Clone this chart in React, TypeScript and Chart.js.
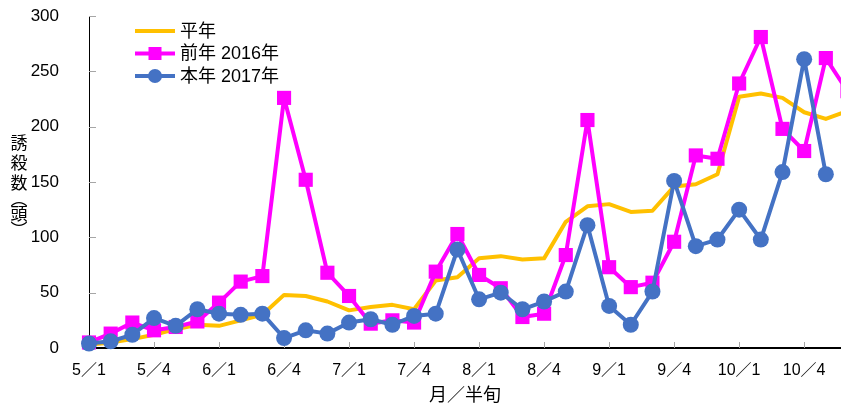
import React, { useEffect, useRef } from "react";
import { Chart, registerables } from "chart.js";

Chart.register(...registerables);

const categories = [
  "5／1", "5／2", "5／3", "5／4", "5／5", "5／6",
  "6／1", "6／2", "6／3", "6／4", "6／5", "6／6",
  "7／1", "7／2", "7／3", "7／4", "7／5", "7／6",
  "8／1", "8／2", "8／3", "8／4", "8／5", "8／6",
  "9／1", "9／2", "9／3", "9／4", "9／5", "9／6",
  "10／1", "10／2", "10／3", "10／4", "10／5", "10／6",
];

const normalYear = [3, 5, 8, 12, 17, 21, 20, 25, 30, 48, 47, 42, 34, 37, 39, 35, 61, 64, 81, 83, 80, 81, 114, 128, 130, 123, 124, 146, 148, 157, 227, 230, 226, 213, 207, 214];
const year2016 = [5, 13, 23, 16, 19, 24, 41, 60, 65, 226, 152, 68, 47, 22, 25, 23, 69, 103, 66, 54, 28, 31, 84, 206, 73, 55, 59, 96, 174, 171, 239, 281, 198, 178, 262, 232];
const year2017 = [4, 6, 12, 27, 20, 35, 31, 30, 31, 9, 16, 13, 23, 26, 21, 29, 31, 89, 44, 50, 35, 42, 51, 111, 38, 21, 51, 151, 92, 98, 125, 98, 159, 261, 157, null];

const yTicks = [0, 50, 100, 150, 200, 250, 300];
const seriesNames = ["平年", "前年 2016年", "本年 2017年"];
const yTitleChars = ["誘", "殺", "数", "︵", "頭", "︶"];
const xTitle = "月／半旬";

const FONT = '"Liberation Sans", "Noto Sans CJK JP", sans-serif';
const CJK = '"Noto Sans CJK JP", "Liberation Sans", sans-serif';

const toXY = (arr: (number | null)[]) => arr.map((v, i) => ({ x: i, y: v }));

const CLIP = { left: 15, top: 15, right: 0, bottom: 15 };

const extrasPlugin = {
  id: "extras",
  beforeDatasetsDraw(chart: any) {
    const ctx = chart.ctx;
    const { x, y } = chart.scales;
    const area = chart.chartArea;
    ctx.save();
    ctx.strokeStyle = "#A6A6A6";
    ctx.lineWidth = 1;
    ctx.beginPath();
    y.ticks.forEach((t: any) => {
      if (t.value === 0) return;
      const py = Math.round(y.getPixelForValue(t.value)) + 0.5;
      ctx.moveTo(area.left, py);
      ctx.lineTo(area.left + 7, py);
    });
    x.ticks.forEach((t: any) => {
      if (t.value === 0) return;
      const px = Math.round(x.getPixelForValue(t.value)) + 0.5;
      ctx.moveTo(px, area.bottom);
      ctx.lineTo(px, area.bottom - 6);
    });
    ctx.stroke();
    ctx.restore();
  },
  afterDraw(chart: any) {
    const ctx = chart.ctx;
    ctx.save();
    // vertical y-axis title
    ctx.fillStyle = "#000";
    ctx.font = `17px ${CJK}`;
    ctx.textAlign = "center";
    ctx.textBaseline = "middle";
    const ys = [143, 163, 183, 199, 214, 230];
    yTitleChars.forEach((c, i) => ctx.fillText(c, 19, ys[i]));

    // legend
    const rows = [31, 53.5, 76];
    chart.data.datasets.forEach((ds: any, i: number) => {
      const ry = rows[i];
      ctx.strokeStyle = ds.borderColor;
      ctx.lineWidth = 4;
      ctx.beginPath();
      ctx.moveTo(135, ry);
      ctx.lineTo(175, ry);
      ctx.stroke();
      ctx.fillStyle = ds.borderColor;
      if (ds.pointRadius > 0) {
        if (ds.pointStyle === "rect") {
          ctx.fillRect(155 - 6.5, ry - 6.5, 13, 13);
        } else {
          ctx.beginPath();
          ctx.arc(155, ry, 7, 0, Math.PI * 2);
          ctx.fill();
        }
      }
      ctx.fillStyle = "#000";
      ctx.font = `18px ${FONT}`;
      ctx.textAlign = "left";
      ctx.textBaseline = "middle";
      ctx.fillText(ds.label, 180, ry + 1);
    });
    ctx.restore();
  },
};

export default function App() {
  const ref = useRef<HTMLCanvasElement>(null);
  useEffect(() => {
    document.body.style.margin = "0";
    document.body.style.overflow = "hidden";
    const chart = new Chart(ref.current!, {
      type: "line",
      data: {
        datasets: [
          {
            label: seriesNames[0],
            data: toXY(normalYear),
            borderColor: "#FFC000",
            backgroundColor: "#FFC000",
            borderWidth: 4,
            borderJoinStyle: "round",
            pointRadius: 0,
            tension: 0,
            order: 3,
            clip: CLIP as any,
          },
          {
            label: seriesNames[1],
            data: toXY(year2016),
            borderColor: "#FF00FF",
            backgroundColor: "#FF00FF",
            borderWidth: 4,
            borderJoinStyle: "round",
            pointStyle: "rect",
            pointRadius: 10,
            pointBorderWidth: 0,
            tension: 0,
            order: 2,
            clip: CLIP as any,
          },
          {
            label: seriesNames[2],
            data: toXY(year2017),
            borderColor: "#4472C4",
            backgroundColor: "#4472C4",
            borderWidth: 4,
            borderJoinStyle: "round",
            pointStyle: "circle",
            pointRadius: 8,
            pointBorderWidth: 0,
            tension: 0,
            order: 1,
            clip: CLIP as any,
          },
        ],
      },
      options: {
        animation: false,
        responsive: false,
        events: [],
        layout: { autoPadding: false, padding: { top: 16, left: 0, right: 0, bottom: 0 } },
        plugins: { legend: { display: false }, tooltip: { enabled: false } },
        scales: {
          x: {
            type: "linear",
            min: 0,
            max: 34.7,
            grid: { display: false },
            border: { display: true, color: "#000", width: 2 },
            ticks: {
              stepSize: 3,
              includeBounds: false,
              autoSkip: false,
              maxRotation: 0,
              padding: 5,
              color: "#000",
              font: { size: 16, family: FONT },
              callback: (v: any) => categories[v] ?? "",
            },
            title: {
              display: true,
              text: xTitle,
              color: "#000",
              font: { size: 18, family: CJK },
              padding: { top: 0, bottom: 5 },
            },
            afterFit: (s: any) => {
              s.height = 62;
              s.paddingLeft = 0;
              s.paddingRight = 0;
            },
          },
          y: {
            min: 0,
            max: 300,
            afterBuildTicks: (s: any) => {
              s.ticks = yTicks.map((v) => ({ value: v }));
            },
            grid: { display: false },
            border: { display: true, color: "#000", width: 1 },
            ticks: {
              padding: 22,
              color: "#000",
              font: { size: 17, family: FONT },
            },
            afterFit: (s: any) => {
              s.width = 89;
              s.paddingTop = 0;
              s.paddingBottom = 0;
            },
          },
        },
      },
      plugins: [extrasPlugin],
    });
    return () => chart.destroy();
  }, []);
  return (
    <div style={{ width: 841, height: 410 }}>
      <canvas ref={ref} width={841} height={410} style={{ display: "block" }} />
    </div>
  );
}
